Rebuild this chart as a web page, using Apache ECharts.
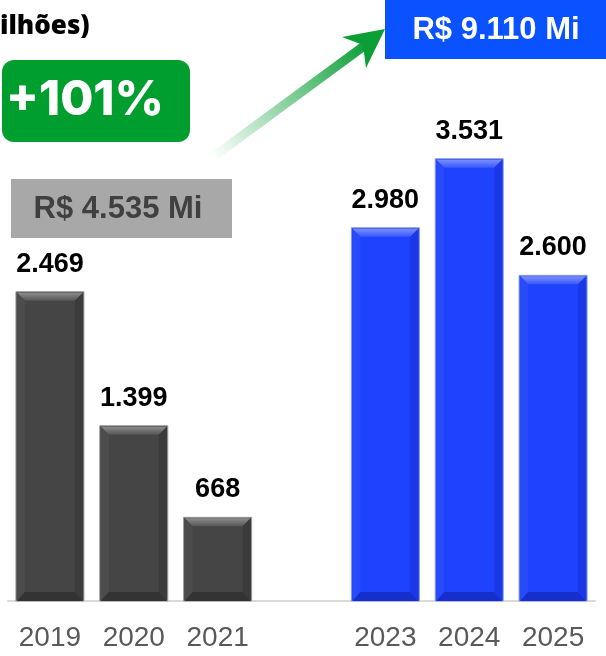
<!DOCTYPE html>
<html>
<head>
<meta charset="utf-8">
<script src="https://cdn.jsdelivr.net/npm/echarts@6/dist/echarts.min.js"></script>
<style>
  html, body { margin: 0; padding: 0; background: #fff; }
  #container { width: 606px; height: 656px; }
</style>
</head>
<body>
<div id="container"></div>
<script>
// anos e valores (R$ milhões)
var years = ['2019', '2020', '2021', '', '2023', '2024', '2025'];
var values = [2469, 1399, 668, null, 2980, 3531, 2600];
var periodo = ['antes', 'antes', 'antes', null, 'depois', 'depois', 'depois'];

var totalAntes = 'R$ 4.535 Mi';
var totalDepois = 'R$ 9.110 Mi';
var crescimento = '+101%';
var titulo = 'ilhões)';

var palette = {
	antes: { face: '#454545', top: ['#8c8c8c', '#555555'], left: '#4c4c4c', right: '#3b3b3b', bottom: '#333333', border: '#9a9a9a' },
	depois: { face: '#1f42fe', top: ['#7a8fff', '#3a58ff'], left: '#2a4aff', right: '#1b38e6', bottom: '#152ecc', border: '#8e9fd6' }
};

function fmt(v) {
	return String(v).replace(/\B(?=(\d{3})+(?!\d))/g, '.');
}

var data = [];
for (var i = 0; i < years.length; i++) {
	if (values[i] == null) continue;
	data.push([i, values[i], periodo[i]]);
}

function renderBar(params, api) {
	var idx = api.value(0);
	var v = api.value(1);
	var c = palette[data[params.dataIndex][2]];
	var top = api.coord([idx, v]);
	var base = api.coord([idx, 0]);
	var w = 68, b = 9;
	var x0 = top[0] - w / 2, x1 = top[0] + w / 2;
	var y0 = top[1], y1 = base[1];
	return {
		type: 'group',
		children: [
			{ type: 'rect', shape: { x: x0, y: y0, width: w, height: y1 - y0 }, style: { fill: c.face, stroke: c.border, lineWidth: 1 } },
			{ type: 'polygon', shape: { points: [[x0 + 1, y0 + 1], [x1 - 1, y0 + 1], [x1 - b, y0 + b], [x0 + b, y0 + b]] },
				style: { fill: new echarts.graphic.LinearGradient(0, 0, 0, 1, [{ offset: 0, color: c.top[0] }, { offset: 1, color: c.top[1] }]) } },
			{ type: 'polygon', shape: { points: [[x0 + 1, y0 + 1], [x0 + b, y0 + b], [x0 + b, y1 - b], [x0 + 1, y1]] }, style: { fill: c.left } },
			{ type: 'polygon', shape: { points: [[x1 - 1, y0 + 1], [x1 - b, y0 + b], [x1 - b, y1 - b], [x1 - 1, y1]] }, style: { fill: c.right } },
			{ type: 'polygon', shape: { points: [[x0 + 1, y1], [x0 + b, y1 - b], [x1 - b, y1 - b], [x1 - 1, y1]] }, style: { fill: c.bottom } },
			{ type: 'text', x: top[0], y: y0 - 14,
				style: { text: fmt(v), fill: '#000', font: 'bold 27px "Liberation Sans", Arial, sans-serif', align: 'center', verticalAlign: 'bottom' } }
		]
	};
}

var dom = document.getElementById('container');
var myChart = echarts.init(dom);

var option = {
	backgroundColor: '#fff',
	animation: false,
	grid: { left: 8, right: 11, top: 100, bottom: 55 },
	xAxis: {
		type: 'category',
		data: years,
		axisLine: { lineStyle: { color: '#d9d9d9', width: 2 } },
		axisTick: { show: false },
		axisLabel: { interval: 0, hideOverlap: false, color: '#595959', fontSize: 28, fontFamily: '"Liberation Sans", Arial, sans-serif', margin: 23 }
	},
	yAxis: {
		type: 'value',
		min: 0,
		max: 4000,
		show: false,
		splitLine: { show: false }
	},
	series: [{
		type: 'custom',
		renderItem: renderBar,
		encode: { x: 0, y: 1 },
		data: data
	}],
	graphic: [
		{ type: 'text', left: 0, top: 14,
			style: { text: titulo, fill: '#000', font: '800 26px "Open Sans", "Noto Sans", sans-serif' } },
		{ type: 'rect', shape: { x: 2, y: 60, width: 188, height: 82, r: 12 }, style: { fill: '#009e2e' } },
		{ type: 'text', x: 85, y: 101,
			style: { text: crescimento, fill: '#fff', font: '800 48px Inter, "Open Sans", sans-serif', align: 'center', verticalAlign: 'middle' } },
		{ type: 'rect', shape: { x: 11, y: 179, width: 221, height: 59 }, style: { fill: '#a8a8a8' } },
		{ type: 'text', x: 118, y: 209,
			style: { text: totalAntes, fill: '#404040', font: 'bold 31px "Liberation Sans", Arial, sans-serif', align: 'center', verticalAlign: 'middle' } },
		{ type: 'line', shape: { x1: 213, y1: 157, x2: 364, y2: 46 },
			style: { lineWidth: 9, stroke: new echarts.graphic.LinearGradient(213, 157, 364, 46, [{ offset: 0, color: 'rgba(16,160,60,0)' }, { offset: 1, color: 'rgba(16,160,60,1)' }], true) } },
		{ type: 'polygon', shape: { points: [[385, 29], [342, 37], [363, 45], [366, 68]] }, style: { fill: '#0b9e34' } },
		{ type: 'rect', shape: { x: 385, y: 0, width: 221, height: 59 }, style: { fill: '#0a52ff' } },
		{ type: 'text', x: 496, y: 30,
			style: { text: totalDepois, fill: '#fff', font: 'bold 31px "Liberation Sans", Arial, sans-serif', align: 'center', verticalAlign: 'middle' } }
	]
};

myChart.setOption(option);
</script>
</body>
</html>
